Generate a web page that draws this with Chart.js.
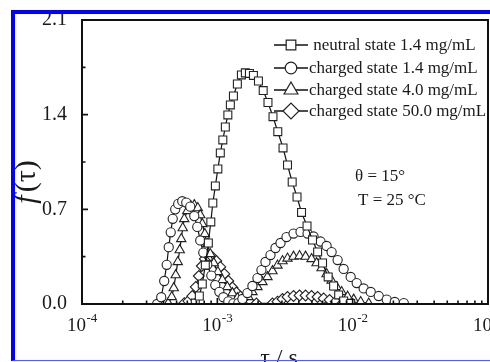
<!DOCTYPE html>
<html>
<head>
<meta charset="utf-8">
<script src="https://cdn.jsdelivr.net/npm/chart.js@4.4.1/dist/chart.umd.min.js"></script>
<style>
  html, body { margin: 0; padding: 0; background: #fff; overflow: hidden; }
  #wrap { position: relative; width: 490px; height: 362px; overflow: hidden; }
  #c { position: absolute; left: 0; top: 0; }
  #frame {
    position: absolute; left: 11px; top: 10px; width: 600px; height: 346px;
    border-top: 4px solid #0000ff; border-left: 4px solid #0000ff;
    border-bottom: 1px solid #5060ff; pointer-events: none;
  }
</style>
</head>
<body>
<div id="wrap">
  <canvas id="c" width="540" height="380"></canvas>
  <div id="frame"></div>
</div>
<script>
// tau in seconds, f(tau)
const neutralTau = [6.87e-4, 7.36e-4, 7.74e-4, 8.15e-4, 8.58e-4, 8.95e-4, 9.26e-4, 9.67e-4, 1.009e-3, 1.052e-3,
  1.098e-3, 1.146e-3, 1.196e-3, 1.248e-3, 1.315e-3, 1.406e-3, 1.506e-3, 1.611e-3, 1.726e-3, 1.848e-3,
  2.013e-3, 2.182e-3, 2.367e-3, 2.578e-3, 2.797e-3, 3.058e-3, 3.30e-3, 3.574e-3, 3.88e-3, 4.19e-3,
  4.60e-3, 5.05e-3, 5.51e-3, 5.99e-3, 6.59e-3, 7.23e-3, 7.88e-3, 8.58e-3, 9.67e-3];
const neutralF = [0.007, 0.059, 0.148, 0.288, 0.451, 0.607, 0.747, 0.873, 0.999, 1.117,
  1.213, 1.309, 1.398, 1.472, 1.538, 1.627, 1.694, 1.709, 1.705, 1.69,
  1.649, 1.578, 1.49, 1.385, 1.274, 1.154, 1.028, 0.902, 0.791, 0.677,
  0.577, 0.473, 0.385, 0.303, 0.2, 0.133, 0.067, 0.022, 0.004];

const charged14Tau = [3.59e-4, 3.85e-4, 4.05e-4, 4.225e-4, 4.372e-4, 4.524e-4, 4.681e-4, 4.885e-4, 5.14e-4, 5.505e-4,
  5.894e-4, 6.31e-4, 6.755e-4, 7.11e-4, 7.48e-4, 7.875e-4, 8.43e-4, 9.03e-4, 9.66e-4, 1.035e-3,
  1.108e-3, 1.206e-3, 1.314e-3,
  1.43e-3, 1.532e-3, 1.668e-3, 1.817e-3, 1.979e-3, 2.118e-3, 2.268e-3, 2.47e-3, 2.69e-3, 2.93e-3,
  3.244e-3, 3.656e-3, 4.12e-3, 4.642e-3, 5.14e-3, 5.794e-3, 6.418e-3, 6.99e-3, 7.743e-3, 8.577e-3,
  9.665e-3, 1.071e-2, 1.206e-2, 1.36e-2, 1.558e-2, 1.786e-2, 2.047e-2, 2.387e-2];
const charged14F = [0.0, 0.05, 0.17, 0.29, 0.42, 0.53, 0.63, 0.70, 0.74, 0.76,
  0.75, 0.72, 0.65, 0.57, 0.47, 0.38, 0.29, 0.21, 0.14, 0.09,
  0.05, 0.02, 0.005,
  0.007, 0.037, 0.081, 0.133, 0.192, 0.251, 0.311, 0.362, 0.414, 0.451,
  0.495, 0.521, 0.533, 0.521, 0.499, 0.462, 0.429, 0.384, 0.325, 0.259,
  0.2, 0.155, 0.115, 0.089, 0.059, 0.033, 0.015, 0.007];

const charged40Tau = [4.335e-4, 4.603e-4, 4.763e-4, 4.928e-4, 5.1e-4, 5.275e-4, 5.412e-4, 5.553e-4, 5.697e-4, 5.995e-4,
  6.365e-4, 6.755e-4, 7.172e-4, 7.48e-4, 7.743e-4, 8.08e-4, 8.43e-4, 8.874e-4, 9.42e-4, 1.009e-3,
  1.089e-3, 1.186e-3, 1.292e-3, 1.406e-3, 1.558e-3,
  1.697e-3, 1.817e-3, 1.979e-3, 2.154e-3, 2.346e-3, 2.555e-3, 2.783e-3, 3.03e-3, 3.3e-3, 3.656e-3,
  4.05e-3, 4.486e-3, 4.969e-3, 5.412e-3, 5.894e-3, 6.418e-3, 6.99e-3, 7.612e-3, 8.29e-3, 9.18e-3,
  1.017e-2, 1.146e-2, 1.314e-2];
const charged40F = [0.007, 0.052, 0.118, 0.214, 0.311, 0.399, 0.481, 0.562, 0.629, 0.688,
  0.725, 0.732, 0.71, 0.658, 0.592, 0.518, 0.444, 0.37, 0.303, 0.237,
  0.178, 0.126, 0.081, 0.044, 0.015,
  0.052, 0.089, 0.126, 0.163, 0.2, 0.244, 0.285, 0.318, 0.337, 0.351,
  0.355, 0.351, 0.333, 0.303, 0.266, 0.222, 0.174, 0.126, 0.089, 0.055,
  0.033, 0.015, 0.004];

const charged500Tau = [5.697e-4, 6.1e-4, 6.53e-4, 6.93e-4, 7.295e-4, 7.677e-4, 8.08e-4, 8.577e-4, 9.18e-4, 9.83e-4,
  1.052e-3, 1.127e-3, 1.206e-3, 1.292e-3, 1.383e-3, 1.481e-3, 1.611e-3, 1.756e-3, 1.945e-3,
  2.555e-3, 2.783e-3, 3.03e-3, 3.3e-3, 3.656e-3, 4.05e-3, 4.486e-3, 4.969e-3, 5.505e-3, 6.1e-3,
  6.755e-3, 7.48e-3, 8.43e-3, 9.665e-3];
const charged500F = [0.007, 0.022, 0.059, 0.126, 0.207, 0.281, 0.333, 0.355, 0.348, 0.318,
  0.274, 0.222, 0.170, 0.122, 0.085, 0.055, 0.03, 0.011, 0.004,
  0.004, 0.018, 0.037, 0.052, 0.059, 0.063, 0.063, 0.059, 0.052, 0.041,
  0.03, 0.018, 0.007, 0.004];

const seriesNames = [" neutral state 1.4 mg/mL", "charged state 1.4 mg/mL", "charged state 4.0 mg/mL", "charged state 50.0 mg/mL"];
const yTicks = [0, 0.7, 1.4, 2.1];
const yMinor = [0.35, 1.05, 1.75];
const xTickExps = [-4, -3, -2, -1];
const notes = ["θ = 15°", "T = 25 °C"];

const SERIF = "'Liberation Serif', 'Times New Roman', serif";
const INK = "#1a1a1a";

const markers = [
  { pointStyle: "rect", radius: 5.6, legendRadius: 6.8 },
  { pointStyle: "circle", radius: 4.6, legendRadius: 5.8 },
  { pointStyle: "triangle", radius: 5.4, legendRadius: 8 },
  { pointStyle: "rectRot", radius: 5.4, legendRadius: 8 },
];

function toPoints(tau, f) {
  return tau.map((t, i) => ({ x: t, y: f[i] }));
}

const allData = [
  toPoints(neutralTau, neutralF),
  toPoints(charged14Tau, charged14F),
  toPoints(charged40Tau, charged40F),
  toPoints(charged500Tau, charged500F),
];

function drawMarker(ctx, m, x, y) {
  ctx.fillStyle = "#fff";
  ctx.strokeStyle = "#222";
  ctx.lineWidth = 1.2;
  if (Chart.helpers && Chart.helpers.drawPoint) {
    Chart.helpers.drawPoint(ctx, { pointStyle: m.pointStyle, radius: m.legendRadius, rotation: 0, borderWidth: 1.2 }, x, y);
  }
}

// frame, inward ticks, x labels with exponents, legend, titles, notes
const decor = {
  id: "decor",
  afterDatasetsDraw(chart) {
    const { ctx, chartArea: a, scales: { x, y } } = chart;
    ctx.save();

    ctx.strokeStyle = "#111";
    ctx.lineWidth = 2;
    ctx.strokeRect(a.left, a.top, a.right - a.left, a.bottom - a.top);

    ctx.lineWidth = 1.6;
    ctx.beginPath();
    xTickExps.forEach((e, k) => {
      const px = x.getPixelForValue(Math.pow(10, e));
      ctx.moveTo(px, a.bottom);
      ctx.lineTo(px, a.bottom - 6);
      if (k < xTickExps.length - 1) {
        for (let m = 2; m <= 9; m++) {
          const q = x.getPixelForValue(m * Math.pow(10, e));
          ctx.moveTo(q, a.bottom);
          ctx.lineTo(q, a.bottom - 3.5);
        }
      }
    });
    yTicks.forEach((v) => {
      const py = y.getPixelForValue(v);
      ctx.moveTo(a.left, py);
      ctx.lineTo(a.left + 6, py);
    });
    yMinor.forEach((v) => {
      const py = y.getPixelForValue(v);
      ctx.moveTo(a.left, py);
      ctx.lineTo(a.left + 3.5, py);
    });
    ctx.stroke();

    // x tick labels 10^e
    ctx.fillStyle = INK;
    ctx.textAlign = "left";
    ctx.textBaseline = "alphabetic";
    xTickExps.forEach((e) => {
      const px = x.getPixelForValue(Math.pow(10, e));
      ctx.font = "19px " + SERIF;
      const w = ctx.measureText("10").width;
      const left = px - 15;
      ctx.fillText("10", left, a.bottom + 27);
      ctx.font = "13px " + SERIF;
      ctx.fillText(String(e), left + w + 0.5, a.bottom + 18);
    });

    // legend
    const rowY = [45, 68, 90, 111];
    seriesNames.forEach((name, i) => {
      const cy = rowY[i];
      ctx.strokeStyle = "#111";
      ctx.lineWidth = 1.3;
      ctx.beginPath();
      ctx.moveTo(274, cy);
      ctx.lineTo(308, cy);
      ctx.stroke();
      drawMarker(ctx, markers[i], 291, cy);
      ctx.fillStyle = INK;
      ctx.font = "17px " + SERIF;
      ctx.textAlign = "left";
      ctx.textBaseline = "middle";
      ctx.fillText(name, 309, cy + 1);
    });

    // notes
    ctx.font = "17px " + SERIF;
    ctx.fillText(notes[0], 355, 177);
    ctx.fillText(notes[1], 358, 201);

    // x title
    ctx.font = "24px " + SERIF;
    ctx.textAlign = "center";
    ctx.textBaseline = "alphabetic";
    ctx.fillText("τ / s", 279, 365);

    // y title f(τ)
    ctx.translate(27, 182);
    ctx.rotate(-Math.PI / 2);
    ctx.textBaseline = "middle";
    ctx.textAlign = "left";
    const fFont = "italic 30px " + SERIF;
    const nFont = "30px " + SERIF;
    ctx.font = fFont;
    const wf = ctx.measureText("f").width;
    ctx.font = nFont;
    const wr = ctx.measureText("(τ)").width;
    const sx = -(wf + wr + 3) / 2;
    ctx.font = fFont;
    ctx.fillText("f", sx, 0);
    ctx.font = nFont;
    ctx.fillText("(τ)", sx + wf + 3, 0);

    ctx.restore();
  },
};

new Chart(document.getElementById("c"), {
  type: "line",
  data: {
    datasets: allData.map((pts, i) => ({
      label: seriesNames[i],
      data: pts,
      borderColor: "#111",
      borderWidth: 1.2,
      tension: 0,
      pointStyle: markers[i].pointStyle,
      pointRadius: markers[i].radius,
      pointBackgroundColor: "#fff",
      pointBorderColor: "#222",
      pointBorderWidth: 1.1,
      clip: { left: 10, top: 10, right: 10, bottom: 0 },
    })),
  },
  options: {
    responsive: false,
    animation: false,
    events: [],
    layout: { padding: { left: 0, top: 20, right: 52, bottom: 0 } },
    plugins: { legend: { display: false }, tooltip: { enabled: false } },
    scales: {
      x: {
        type: "logarithmic",
        min: 1e-4,
        max: 1e-1,
        grid: { display: false },
        border: { display: false },
        ticks: { display: false },
        afterFit: (s) => { s.height = 76; },
      },
      y: {
        min: 0,
        max: 2.1,
        grid: { display: false },
        border: { display: false },
        afterBuildTicks: (s) => { s.ticks = yTicks.map((v) => ({ value: v })); },
        ticks: {
          font: { family: SERIF, size: 20 },
          color: INK,
          padding: 7,
          callback: (v) => Number(v).toFixed(1),
        },
        afterFit: (s) => { s.width = 82; },
      },
    },
  },
  plugins: [decor],
});
</script>
</body>
</html>
